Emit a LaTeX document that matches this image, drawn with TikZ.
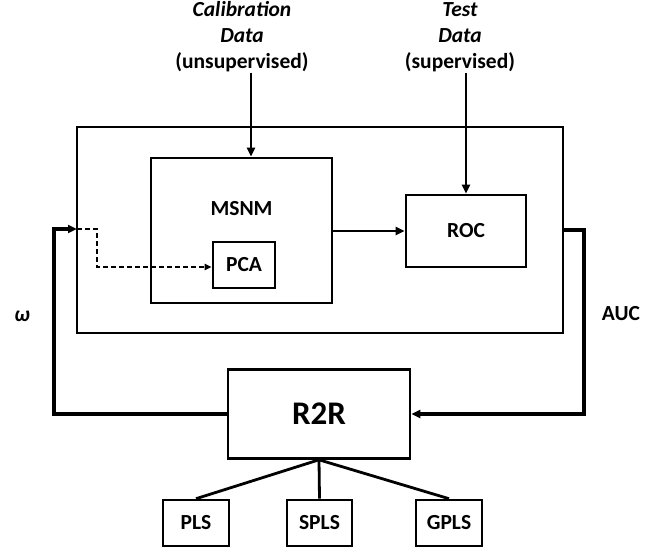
\documentclass[tikz,border=0pt]{standalone}
\usepackage{fontspec}
\setmainfont{Carlito}
\usetikzlibrary{arrows.meta}
\begin{document}
\begin{tikzpicture}[x=1bp,y=-1bp,
  box/.style={draw,line width=2.6bp,inner sep=0pt},
  lbl/.style={font=\fontsize{21.5bp}{26bp}\selectfont\bfseries,inner sep=0pt},
  conn/.style={line width=2.8bp},
  fb/.style={line width=3.8bp},
  tip/.style={-{Triangle[length=9bp,width=8bp]}},
  dsh/.style={line width=1.8bp,dash pattern=on 5bp off 3bp}]
\useasboundingbox (0,0) rectangle (667,550);
% boxes
\node[box,minimum width=486bp,minimum height=206bp] (outer) at (320,230) {};
\node[box,minimum width=181bp,minimum height=145bp] (msnm) at (241.5,230.5) {};
\node[lbl] (msnmlbl) at (241.5,209) {MSNM};
\node[box,lbl,minimum width=62bp,minimum height=46bp] (pca) at (244,265) {PCA};
\node[box,lbl,minimum width=120bp,minimum height=72bp] (roc) at (466,231) {ROC};
\node[box,minimum width=182bp,minimum height=89bp,inner sep=0pt,font=\fontsize{33bp}{38bp}\selectfont\bfseries] (r2r) at (319,414) {R2R};
\node[box,lbl,minimum width=66bp,minimum height=46bp] (pls) at (196,523) {PLS};
\node[box,lbl,minimum width=65bp,minimum height=46bp] (spls) at (319.5,523) {SPLS};
\node[box,lbl,minimum width=66bp,minimum height=46bp] (gpls) at (449,523) {GPLS};
% top texts
\node[lbl,align=center] (calib) at (242,37) {\textit{Calibration}\\\textit{Data}\\(unsupervised)};
\node[lbl,align=center] (test) at (460,37) {\textit{Test}\\\textit{Data}\\(supervised)};
\node[lbl] (omega) at (22,316) {\textit{ω}};
\node[lbl] (auc) at (621,314) {AUC};
% connectors
\coordinate (c1) at (251,73);
\coordinate (c2) at (466,73);
\draw[conn,tip] (c1) -- (c1 |- msnm.north);
\draw[conn,tip] (c2) -- (roc.north);
\draw[conn,tip] (msnm.east |- roc.west) -- (roc.west);
\coordinate (fbin) at (77,229);
\coordinate (fbl) at (54,229);
\draw[fb,tip] (r2r.west) -| (fbl) -- (fbin);
\draw[dsh,-{Triangle[length=7bp,width=6bp]}] (fbin) -| (97,267) -- (pca.west |- 0,267);
\coordinate (fbr) at (584,230);
\draw[fb,tip] (outer.east) -- (fbr) |- (r2r.east);
\draw[conn] (r2r.south) -- (pls.north);
\draw[conn] (r2r.south) -- (spls.north);
\draw[conn] (r2r.south) -- (gpls.north);
\end{tikzpicture}
\end{document}
